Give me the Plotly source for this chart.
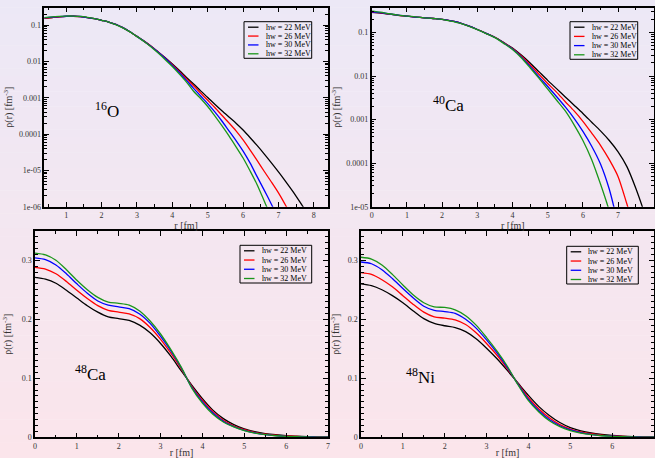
import plotly.graph_objects as go

W, H = 655, 458

hw_labels = ["hw = 22 MeV", "hw = 26 MeV", "hw = 30 MeV", "hw = 32 MeV"]
line_colors = ["#000000", "#ff0000", "#0000ff", "#1a961a"]

# ---------------- 16O (log scale) ----------------
r_o16 = [0.38, 0.6, 0.8, 1.0, 1.2, 1.4, 1.6, 1.8, 2.0, 2.2, 2.4, 2.6, 2.8, 3.0, 3.2, 3.4, 3.6,
         3.8, 4.0, 4.2, 4.4, 4.6, 4.8, 5.0, 5.2, 5.4, 5.6, 5.8, 6.0, 6.2, 6.4, 6.6, 6.8, 7.0,
         7.2, 7.4, 7.6, 7.8, 8.0]
o16_hw22 = [0.153, 0.162, 0.170, 0.174, 0.176, 0.172, 0.162, 0.151, 0.136, 0.122, 0.105, 0.0851,
            0.0661, 0.0490, 0.0363, 0.0263, 0.0182, 0.0126, 0.00851, 0.00562, 0.00363, 0.00240,
            0.00155, 0.00102, 6.61e-4, 4.37e-4, 2.95e-4, 2.00e-4, 1.29e-4, 7.94e-5, 4.79e-5,
            2.82e-5, 1.62e-5, 9.12e-6, 5.01e-6, 2.69e-6, 1.38e-6, 6.92e-7, 3.39e-7]
o16_hw26 = [0.153, 0.162, 0.170, 0.174, 0.176, 0.172, 0.162, 0.151, 0.136, 0.122, 0.105, 0.0851,
            0.0661, 0.0490, 0.0363, 0.0263, 0.0181, 0.0123, 0.00813, 0.00525, 0.00331, 0.00214,
            0.00135, 8.51e-4, 5.37e-4, 3.31e-4, 2.04e-4, 1.23e-4, 6.92e-5, 3.63e-5, 1.86e-5,
            9.33e-6, 4.79e-6, 2.40e-6, 1.10e-6, 4.79e-7, 2.0e-7, 7.9e-8, 3.2e-8]
o16_hw30 = [0.158, 0.166, 0.172, 0.176, 0.177, 0.173, 0.162, 0.151, 0.136, 0.122, 0.105, 0.0851,
            0.0661, 0.0490, 0.0359, 0.0257, 0.0178, 0.0120, 0.00776, 0.00490, 0.00302, 0.00182,
            0.00112, 6.92e-4, 4.07e-4, 2.29e-4, 1.23e-4, 6.61e-5, 3.39e-5, 1.58e-5, 6.61e-6,
            2.82e-6, 1.17e-6, 4.68e-7, 1.78e-7, 6.3e-8, 2.5e-8, 7.9e-9, 2.5e-9]
o16_hw32 = [0.162, 0.169, 0.174, 0.178, 0.178, 0.174, 0.164, 0.151, 0.136, 0.122, 0.104, 0.0841,
            0.0653, 0.0484, 0.0355, 0.0251, 0.0170, 0.0112, 0.00724, 0.00447, 0.00269, 0.00151,
            9.55e-4, 5.75e-4, 3.16e-4, 1.70e-4, 8.91e-5, 4.47e-5, 2.19e-5, 9.55e-6, 3.98e-6,
            1.41e-6, 5.0e-7, 1.6e-7, 5.0e-8, 1.6e-8, 5.0e-9, 1.6e-9, 5.0e-10]

# ---------------- 40Ca (log scale) ----------------
r_ca40 = [0.0, 0.25, 0.5, 0.75, 1.0, 1.25, 1.5, 1.75, 2.0, 2.25, 2.5, 2.75, 3.0, 3.25, 3.5, 3.75,
          4.0, 4.25, 4.5, 4.75, 5.0, 5.25, 5.5, 5.75, 6.0, 6.25, 6.5, 6.75, 7.0, 7.25, 7.5, 7.75, 8.0]
ca40_hw22 = [0.288, 0.279, 0.263, 0.248, 0.237, 0.226, 0.217, 0.209, 0.200, 0.184, 0.166, 0.141,
             0.117, 0.0955, 0.0776, 0.0589, 0.0437, 0.0302, 0.0200, 0.0126, 0.00794, 0.00513,
             0.00331, 0.00214, 0.00138, 8.71e-4, 5.50e-4, 3.31e-4, 1.82e-4, 8.32e-5, 2.69e-5,
             7.08e-6, 1.58e-6]
ca40_hw26 = [0.292, 0.281, 0.264, 0.248, 0.237, 0.226, 0.217, 0.209, 0.200, 0.184, 0.166, 0.141,
             0.117, 0.0955, 0.0776, 0.0582, 0.0427, 0.0288, 0.0182, 0.0110, 0.00676, 0.00427,
             0.00257, 0.00158, 9.12e-4, 4.90e-4, 2.57e-4, 1.20e-4, 4.90e-5, 1.15e-5, 2.5e-6,
             5.0e-7, 1.0e-7]
ca40_hw30 = [0.299, 0.285, 0.266, 0.249, 0.237, 0.226, 0.217, 0.209, 0.200, 0.184, 0.166, 0.141,
             0.117, 0.0955, 0.0767, 0.0575, 0.0417, 0.0275, 0.0166, 0.00955, 0.00575, 0.00339,
             0.00195, 0.00107, 5.37e-4, 2.45e-4, 9.55e-5, 2.51e-5, 3.98e-6, 6.3e-7, 1.0e-7,
             1.6e-8, 2.5e-9]
ca40_hw32 = [0.309, 0.292, 0.269, 0.251, 0.238, 0.228, 0.217, 0.209, 0.200, 0.183, 0.164, 0.140,
             0.116, 0.0944, 0.0759, 0.0562, 0.0407, 0.0263, 0.0155, 0.00891, 0.00501, 0.00282,
             0.00158, 7.59e-4, 3.31e-4, 1.20e-4, 3.31e-5, 7.94e-6, 1.26e-6, 2.0e-7, 3.2e-8,
             5.0e-9, 7.9e-10]

# ---------------- 48Ca / 48Ni (linear scale) ----------------
r_lin = [0.0, 0.25, 0.5, 0.75, 1.0, 1.25, 1.5, 1.75, 2.0, 2.25, 2.5, 2.75, 3.0, 3.25, 3.5, 3.75,
         4.0, 4.25, 4.5, 4.75, 5.0, 5.25, 5.5, 5.75, 6.0, 6.25, 6.5, 6.75, 7.0]
ca48_hw22 = [0.271, 0.268, 0.261, 0.249, 0.236, 0.223, 0.212, 0.204, 0.201, 0.198, 0.190, 0.177,
             0.159, 0.137, 0.112, 0.088, 0.0655, 0.046, 0.0316, 0.0215, 0.0141, 0.0096,
             0.0064, 0.0043, 0.0028, 0.0019, 0.0012, 0.0008, 0.0005]
ca48_hw26 = [0.288, 0.285, 0.277, 0.264, 0.249, 0.235, 0.223, 0.215, 0.212, 0.209, 0.201, 0.186,
             0.166, 0.142, 0.115, 0.086, 0.0625, 0.0435, 0.029, 0.0195, 0.0128, 0.0084, 0.0054,
             0.0035, 0.0022, 0.0014, 0.0008, 0.0005, 0.0003]
ca48_hw30 = [0.304, 0.301, 0.292, 0.277, 0.260, 0.244, 0.231, 0.224, 0.221, 0.218, 0.209, 0.193,
             0.171, 0.146, 0.117, 0.084, 0.060, 0.041, 0.027, 0.0182, 0.0118, 0.0076, 0.0047,
             0.0029, 0.0017, 0.0010, 0.0006, 0.0004, 0.0002]
ca48_hw32 = [0.312, 0.309, 0.300, 0.284, 0.266, 0.250, 0.237, 0.229, 0.227, 0.224, 0.214, 0.197,
             0.175, 0.148, 0.118, 0.083, 0.058, 0.039, 0.026, 0.0175, 0.0113, 0.0072, 0.0044,
             0.0026, 0.0015, 0.0009, 0.0005, 0.0003, 0.0002]

ni48_hw22 = [0.260, 0.257, 0.250, 0.240, 0.228, 0.214, 0.201, 0.193, 0.189, 0.186, 0.179, 0.167,
             0.151, 0.133, 0.113, 0.092, 0.071, 0.052, 0.037, 0.025, 0.0165, 0.011, 0.0073,
             0.0049, 0.0032, 0.0021, 0.0013, 0.0008, 0.0005]
ni48_hw26 = [0.279, 0.276, 0.267, 0.255, 0.240, 0.225, 0.212, 0.204, 0.202, 0.199, 0.191, 0.177,
             0.159, 0.139, 0.116, 0.091, 0.067, 0.048, 0.033, 0.0215, 0.014, 0.0092, 0.006,
             0.0038, 0.0024, 0.0015, 0.0009, 0.0006, 0.0003]
ni48_hw30 = [0.297, 0.294, 0.284, 0.269, 0.252, 0.236, 0.222, 0.215, 0.213, 0.210, 0.200, 0.185,
             0.165, 0.143, 0.118, 0.090, 0.064, 0.045, 0.030, 0.0195, 0.0125, 0.008, 0.005,
             0.003, 0.0018, 0.0011, 0.0007, 0.0004, 0.0002]
ni48_hw32 = [0.305, 0.302, 0.292, 0.276, 0.258, 0.241, 0.228, 0.221, 0.220, 0.216, 0.206, 0.190,
             0.169, 0.146, 0.120, 0.089, 0.062, 0.043, 0.028, 0.018, 0.0115, 0.0072, 0.0044,
             0.0026, 0.0015, 0.0009, 0.0005, 0.0003, 0.0002]

log_tickvals_o = [1e-6, 1e-5, 1e-4, 1e-3, 1e-2, 1e-1]
log_ticktext_o = ["1e-06", "1e-05", "0.0001", "0.001", "0.01", "0.1"]
log_tickvals_ca = [1e-5, 1e-4, 1e-3, 1e-2, 1e-1]
log_ticktext_ca = ["1e-05", "0.0001", "0.001", "0.01", "0.1"]
lin_tickvals = [0, 0.1, 0.2, 0.3]
lin_ticktext = ["0", "0.1", "0.2", "0.3"]

nucleus_labels = ["<sup>16</sup>O", "<sup>40</sup>Ca", "<sup>48</sup>Ca", "<sup>48</sup>Ni"]

panels = [
    dict(r=r_o16, ys=[o16_hw22, o16_hw26, o16_hw30, o16_hw32], xa="x", ya="y"),
    dict(r=r_ca40, ys=[ca40_hw22, ca40_hw26, ca40_hw30, ca40_hw32], xa="x2", ya="y2"),
    dict(r=r_lin, ys=[ca48_hw22, ca48_hw26, ca48_hw30, ca48_hw32], xa="x3", ya="y3"),
    dict(r=r_lin, ys=[ni48_hw22, ni48_hw26, ni48_hw30, ni48_hw32], xa="x4", ya="y4"),
]

SERIF = "Liberation Serif, Times New Roman, serif"

fig = go.Figure()
for p in panels:
    for lab, col, yv in zip(hw_labels, line_colors, p["ys"]):
        fig.add_trace(go.Scatter(
            x=p["r"], y=yv, mode="lines", name=lab, showlegend=False,
            line=dict(color=col, width=1.3, shape="spline", smoothing=0.8),
            xaxis=p["xa"], yaxis=p["ya"], hoverinfo="skip",
        ))


def px_x(a, b):
    return [a / W, b / W]


def px_y(top, bottom):
    return [1 - bottom / H, 1 - top / H]


tickfont = dict(family=SERIF, size=8, color="#333333")
titlefont = dict(family=SERIF, size=10, color="#333333")


def axis(domain, anchor, rng, tickvals=None, ticktext=None, minor_dtick=None, log=False, title=None,
         standoff=0):
    d = dict(
        domain=domain, anchor=anchor, range=rng, autorange=False,
        showline=True, linecolor="black", linewidth=1.5, mirror="allticks",
        ticks="inside", ticklen=5, tickwidth=1, tickcolor="black",
        showgrid=False, zeroline=False, tickfont=tickfont, automargin=False,
        fixedrange=True,
    )
    if log:
        d["type"] = "log"
    if tickvals is not None:
        d["tickmode"] = "array"
        d["tickvals"] = tickvals
        d["ticktext"] = ticktext
    if minor_dtick is not None:
        d["minor"] = dict(ticks="inside", ticklen=3, tickwidth=1, tickcolor="black",
                          dtick=minor_dtick, showgrid=False)
    if title is not None:
        d["title"] = dict(text=title, font=titlefont, standoff=standoff)
    return d


ytitle = "ρ(r) [fm<sup>-3</sup>]"
xtitle = "r [fm]"

top_y = px_y(7.5, 206.7)
bot_y = px_y(231.3, 437.3)

layout = dict(
    width=W, height=H,
    margin=dict(l=0, r=0, t=0, b=0),
    paper_bgcolor="rgba(0,0,0,0)",
    plot_bgcolor="rgba(0,0,0,0)",
    showlegend=False,
    xaxis=axis(px_x(44.3, 328), "y", [0.38, 8.4], tickvals=[1, 2, 3, 4, 5, 6, 7, 8],
               ticktext=["1", "2", "3", "4", "5", "6", "7", "8"], minor_dtick=0.5, title=xtitle),
    yaxis=axis(top_y, "x", [-6, -0.514], tickvals=log_tickvals_o, ticktext=log_ticktext_o,
               minor_dtick="D1", log=True, title=ytitle, standoff=4),
    xaxis2=axis(px_x(371.7, 654), "y2", [0, 8.02], tickvals=[0, 1, 2, 3, 4, 5, 6, 7, 8],
                ticktext=["0", "1", "2", "3", "4", "5", "6", "7", "8"], minor_dtick=0.5, title=xtitle),
    yaxis2=axis(top_y, "x2", [-5, -0.427], tickvals=log_tickvals_ca, ticktext=log_ticktext_ca,
                minor_dtick="D1", log=True, title=ytitle, standoff=4),
    xaxis3=axis(px_x(35, 328), "y3", [0, 7], tickvals=[0, 1, 2, 3, 4, 5, 6, 7],
                ticktext=["0", "1", "2", "3", "4", "5", "6", "7"], minor_dtick=0.5, title=xtitle),
    yaxis3=axis(bot_y, "x3", [0, 0.349], tickvals=lin_tickvals, ticktext=lin_ticktext,
                minor_dtick=0.01, title=ytitle, standoff=8),
    xaxis4=axis(px_x(361, 654), "y4", [0, 7], tickvals=[0, 1, 2, 3, 4, 5, 6, 7],
                ticktext=["0", "1", "2", "3", "4", "5", "6", "7"], minor_dtick=0.5, title=xtitle),
    yaxis4=axis(bot_y, "x4", [0, 0.349], tickvals=lin_tickvals, ticktext=lin_ticktext,
                minor_dtick=0.01, title=ytitle, standoff=6),
)

shapes = []
annotations = []

# background gradient (lavender -> pink)
top_rgb = (236, 232, 246)
bot_rgb = (251, 229, 235)
n_bands = 60
for i in range(n_bands):
    t = i / (n_bands - 1)
    c = tuple(round(top_rgb[k] + (bot_rgb[k] - top_rgb[k]) * t) for k in range(3))
    shapes.append(dict(
        type="rect", xref="paper", yref="paper", layer="below",
        x0=0, x1=1, y0=1 - (i + 1) / n_bands, y1=1 - i / n_bands + 0.001,
        fillcolor="rgb(%d,%d,%d)" % c, line=dict(width=0),
    ))

# framed legends (box left, box top, box right, box bottom) in page pixels
legend_boxes = [
    (244.0, 21.7, 311.7, 58.3),
    (570.0, 21.7, 637.7, 59.3),
    (240.0, 245.3, 311.7, 283.0),
    (566.7, 246.3, 638.3, 284.0),
]
for (l, t, r, b) in legend_boxes:
    shapes.append(dict(type="rect", xref="paper", yref="paper", layer="above",
                       x0=l / W, x1=r / W, y0=1 - b / H, y1=1 - t / H,
                       line=dict(color="black", width=1), fillcolor="rgba(0,0,0,0)"))
    row_h = (b - t - 10) / 3.0
    for k, (lab, col) in enumerate(zip(hw_labels, line_colors)):
        yk = t + 5.5 + row_h * k
        shapes.append(dict(type="line", xref="paper", yref="paper", layer="above",
                           x0=(l + 4) / W, x1=(l + 14.5) / W, y0=1 - yk / H, y1=1 - yk / H,
                           line=dict(color=col, width=1.3)))
        annotations.append(dict(text=lab, xref="paper", yref="paper", x=(l + 19.5) / W,
                                y=1 - yk / H, xanchor="left", yanchor="middle", showarrow=False,
                                font=dict(family=SERIF, size=8, color="black")))

label_pos = [(93, 123), (431, 117), (73, 386), (404, 389)]
for txt, (xp, yp) in zip(nucleus_labels, label_pos):
    annotations.append(dict(text=txt, xref="paper", yref="paper", x=xp / W, y=1 - yp / H,
                            xanchor="left", yanchor="bottom", showarrow=False,
                            font=dict(family=SERIF, size=17, color="black")))

layout["shapes"] = shapes
layout["annotations"] = annotations

fig.update_layout(**layout)
fig.write_html(
    "out.html",
    config={"displayModeBar": False},
    post_script="document.body.style.margin='0';document.body.style.overflow='hidden';",
)
